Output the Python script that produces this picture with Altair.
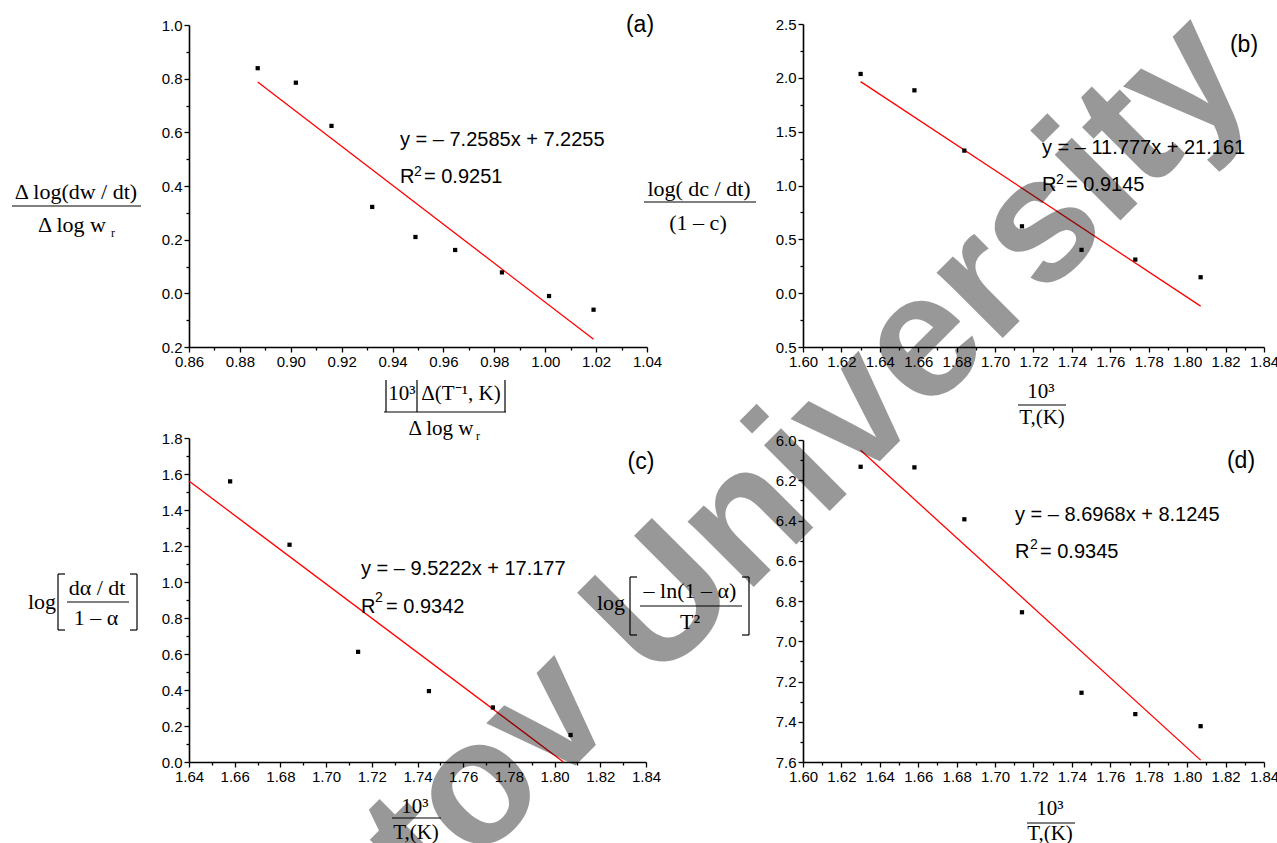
import altair as alt
import pandas as pd
import numpy as np

# ---------------- data ----------------
# (a)
a_x = [0.887, 0.902, 0.916, 0.932, 0.949, 0.9646, 0.983, 1.0015, 1.019]
a_y = [0.839, 0.785, 0.624, 0.322, 0.210, 0.1615, 0.078, -0.010, -0.061]
a_slope, a_icpt = -7.2585, 7.2255
a_fit_x = [0.887, 1.019]
# (b)
b_x = [1.630, 1.658, 1.684, 1.714, 1.745, 1.773, 1.807]
b_y = [2.036, 1.884, 1.324, 0.621, 0.402, 0.312, 0.148]
b_slope, b_icpt = -11.777, 21.161
b_fit_x = [1.630, 1.807]
# (c)
c_x = [1.658, 1.684, 1.714, 1.745, 1.773, 1.807]
c_y = [1.559, 1.207, 0.612, 0.394, 0.303, 0.150]
c_slope, c_icpt = -9.5222, 17.177
c_fit_x = [1.640, 1.804]
# (d)
d_x = [1.630, 1.658, 1.684, 1.714, 1.745, 1.773, 1.807]
d_y = [-6.133, -6.136, -6.394, -6.856, -7.256, -7.362, -7.422]
d_slope, d_icpt = -8.6968, 8.1245
d_fit_x = [1.630, 1.807]

# tick positions (major + minor)
a_xticks = [round(v, 2) for v in np.arange(0.86, 1.0401, 0.01)]
a_yticks = [round(v, 1) for v in np.arange(-0.2, 1.001, 0.1)]
b_xticks = [round(v, 2) for v in np.arange(1.60, 1.8401, 0.01)]
b_yticks = [round(v, 2) for v in np.arange(-0.5, 2.501, 0.25)]
c_xticks = [round(v, 2) for v in np.arange(1.64, 1.8401, 0.01)]
c_yticks = [round(v, 1) for v in np.arange(0.0, 1.801, 0.1)]
d_xticks = [round(v, 2) for v in np.arange(1.60, 1.8401, 0.01)]
d_yticks = [round(v, 1) for v in np.arange(-7.6, -5.999, 0.1)]

SANS = "Liberation Sans"
SERIF = "Liberation Serif"
H = 843


def make_axis(orient, values, minor_test, fmt, offset):
    return alt.Axis(
        orient=orient, values=values, offset=offset, title=None, grid=False,
        labelExpr=f"({minor_test}) ? '' : {fmt}",
        tickSize={"condition": {"test": minor_test, "value": 3}, "value": 5},
        domainColor="black", domainWidth=1.6, tickColor="black", tickWidth=1.3,
        labelColor="black", labelFont=SANS, labelFontSize=15, labelPadding=2,
        labelOverlap=False, labelFlush=False, labelBound=False,
    )


XMINOR = "abs(round(datum.value*100)) % 2 == 1"
XFMT = "format(datum.value, '.2f')"
Y10MINOR = "abs(round(datum.value*10)) % 2 == 1"
Y4MINOR = "abs(round(datum.value*4)) % 2 == 1"
YFMT = "format(abs(datum.value), '.1f')"


def panel(px, py, slope, icpt, fitx, xdom, xrng, xticks, ydom, yrng, yticks, yminor):
    pts = pd.DataFrame({"x": px, "y": py})
    fit = pd.DataFrame({"x": fitx, "y": [slope * v + icpt for v in fitx]})
    xenc = alt.X("x:Q", scale=alt.Scale(domain=xdom, range=xrng, nice=False, zero=False),
                 axis=make_axis("bottom", xticks, XMINOR, XFMT, yrng[0] - H))
    yenc = alt.Y("y:Q", scale=alt.Scale(domain=ydom, range=yrng, nice=False, zero=False),
                 axis=make_axis("left", yticks, yminor, YFMT, -xrng[0]))
    p = alt.Chart(pts).mark_square(size=18, color="black", opacity=1).encode(x=xenc, y=yenc)
    l = alt.Chart(fit).mark_line(color="#ff0000", strokeWidth=1.3).encode(x=xenc, y=yenc)
    return alt.layer(l, p)


pa = panel(a_x, a_y, a_slope, a_icpt, a_fit_x, [0.86, 1.04], [189, 647], a_xticks,
           [-0.2, 1.0], [347, 25], a_yticks, Y10MINOR)
pb = panel(b_x, b_y, b_slope, b_icpt, b_fit_x, [1.60, 1.84], [803, 1264], b_xticks,
           [-0.5, 2.5], [347, 24], b_yticks, Y4MINOR)
pc = panel(c_x, c_y, c_slope, c_icpt, c_fit_x, [1.64, 1.84], [189, 646], c_xticks,
           [0.0, 1.8], [762, 438], c_yticks, Y10MINOR)
pd_ = panel(d_x, d_y, d_slope, d_icpt, d_fit_x, [1.60, 1.84], [803, 1264], d_xticks,
            [-7.6, -6.0], [762, 440], d_yticks, Y10MINOR)


def texts(rows, font, size, align="left", baseline="alphabetic", weight="normal"):
    df = pd.DataFrame(rows, columns=["px", "py", "t"])
    return alt.Chart(df).mark_text(font=font, fontSize=size, align=align, baseline=baseline,
                                   color="black", fontWeight=weight).encode(
        x=alt.X("px:Q", scale=None, axis=None), y=alt.Y("py:Q", scale=None, axis=None), text="t:N")


def rules(rows, width=1.2):
    df = pd.DataFrame(rows, columns=["x1", "y1", "x2", "y2"])
    return alt.Chart(df).mark_rule(color="black", strokeWidth=width).encode(
        x=alt.X("x1:Q", scale=None, axis=None), y=alt.Y("y1:Q", scale=None, axis=None),
        x2="x2:Q", y2="y2:Q")


# equations
eq = texts([
    (400, 146, "y = – 7.2585x + 7.2255"),
    (1042, 154, "y = – 11.777x + 21.161"),
    (361, 575, "y = – 9.5222x + 17.177"),
    (1015, 521, "y = – 8.6968x + 8.1245"),
], SANS, 20)
rr = texts([
    (400, 183, "R"), (1042, 191, "R"), (361, 613, "R"), (1015, 558, "R"),
], SANS, 20)
sup2 = texts([
    (414, 176, "2"), (1056, 184, "2"), (375, 602, "2"), (1030, 549, "2"),
], SANS, 14)
rval = texts([
    (424, 183, "= 0.9251"), (1066, 191, "= 0.9145"), (386, 613, "= 0.9342"), (1040, 558, "= 0.9345"),
], SANS, 20)
tags = texts([
    (640, 25, "(a)"), (1244, 45, "(b)"), (641, 462, "(c)"), (1241, 461, "(d)"),
], SANS, 23, align="center", baseline="middle")

# serif axis titles (y)
serif_y = texts([
    (76, 192, "Δ log(dw / dt)"),
    (72, 225, "Δ log w"),
    (699, 189, "log( dc / dt)"),
    (698, 223, "(1 – c)"),
    (42, 602, "log"),
    (97, 588, "dα / dt"),
    (96, 618, "1 – α"),
    (611, 603, "log"),
    (690, 591, "– ln(1 – α)"),
    (690, 622, "T²"),
], SERIF, 22, align="center", baseline="middle")
# serif axis titles (x)
serif_x = texts([
    (402, 394, "10³"),
    (461, 394, "Δ(T⁻¹, K)"),
    (441, 429, "Δ log w"),
    (1041, 392, "10³"),
    (1042, 418, "T,(K)"),
    (415, 807, "10³"),
    (416, 833, "T,(K)"),
    (1050, 809, "10³"),
    (1050, 834, "T,(K)"),
], SERIF, 21, align="center", baseline="middle")
serif_sub = texts([
    (113, 233, "r"), (478, 436, "r"),
], SERIF, 12, align="center", baseline="middle")

bars = rules([
    # fraction bars
    (12, 206, 141, 206),
    (644, 202, 756, 202),
    (67, 602, 129, 602),
    (640, 606, 742, 606),
    (384, 412, 506, 412),
    (1018, 405, 1066, 405),
    (392, 818, 441, 818),
    (1027, 823, 1075, 823),
    # brackets (c)
    (58, 574, 58, 630), (58, 574, 65, 574), (58, 630, 65, 630),
    (137, 574, 137, 630), (130, 574, 137, 574), (130, 630, 137, 630),
    # brackets (d)
    (630, 577, 630, 635), (630, 577, 637, 577), (630, 635, 637, 635),
    (749, 577, 749, 635), (742, 577, 749, 577), (742, 635, 749, 635),
    # vertical bars in (a) x title
    (386, 380, 386, 412), (417, 380, 417, 412), (505, 380, 505, 412),
])

watermark = alt.Chart(pd.DataFrame({"px": [808], "py": [458], "t": ["tov University"]})).mark_text(
    font=SANS, fontSize=176, fontWeight="bold", angle=315, align="center", baseline="middle",
    color="black", opacity=0.4).encode(
    x=alt.X("px:Q", scale=None, axis=None), y=alt.Y("py:Q", scale=None, axis=None), text="t:N")

chart = alt.layer(pa, pb, pc, pd_, eq, rr, sup2, rval, tags, serif_y, serif_x, serif_sub, bars,
                  watermark).resolve_scale(
    x="independent", y="independent").resolve_axis(x="independent", y="independent").properties(
    width=1277, height=843, autosize=alt.AutoSizeParams(type="none"), padding=0,
    background="white").configure_view(strokeWidth=0)

chart.save("out.html", embed_options={"renderer": "svg", "actions": False})
